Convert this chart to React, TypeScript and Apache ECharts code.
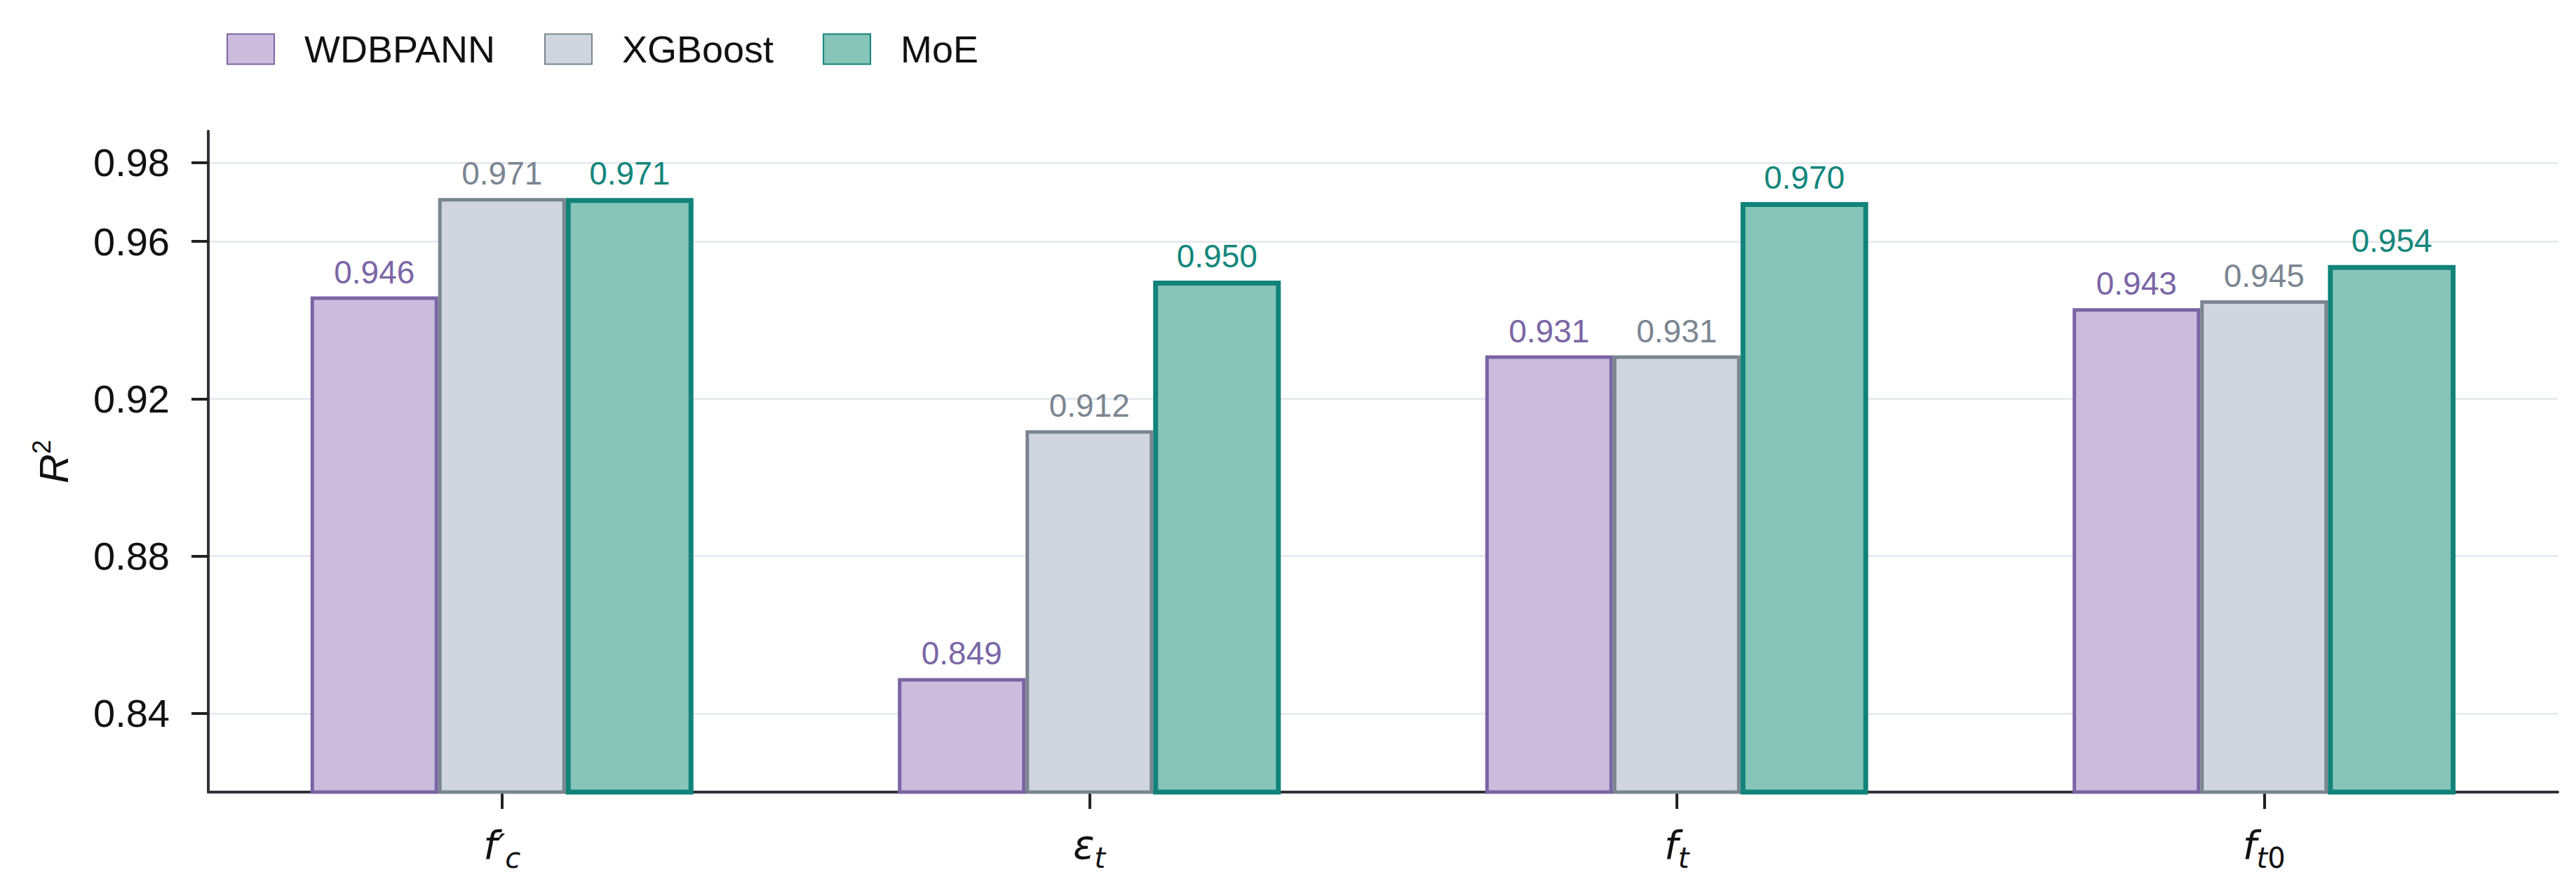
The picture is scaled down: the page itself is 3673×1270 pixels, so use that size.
import React, { useEffect, useRef } from 'react';
import * as echarts from 'echarts';

const categories = ['fc_prime', 'eps_t', 'f_t', 'f_t0'];
const xTickLabels = ['{f|f}{q|′}{s|c}', '{f|ε}{s|t}', '{f|f}{s|t}', '{f|f}{s|t}{n|0}'];
const seriesNames = ['WDBPANN', 'XGBoost', 'MoE'];
const wdbpann = [0.946, 0.849, 0.931, 0.943];
const xgboost = [0.971, 0.912, 0.931, 0.945];
const moe = [0.971, 0.95, 0.97, 0.954];
const yTicks = [0.84, 0.88, 0.92, 0.96, 0.98];

const FONT = 'Liberation Sans, Arial, Helvetica, sans-serif';
const MATH = 'DejaVu Sans, sans-serif';

const styles = [
  { fill: '#CBBCDD', border: '#7A64A4', label: '#7A66A6', bw: 5 },
  { fill: '#CFD6DE', border: '#7B858F', label: '#7B8691', bw: 5 },
  { fill: '#87C5B8', border: '#11837A', label: '#13867B', bw: 7 },
];

export default function App() {
  const ref = useRef<HTMLDivElement>(null);
  useEffect(() => {
    if (!ref.current) return;
    const chart = echarts.init(ref.current, undefined, { renderer: 'svg' });
    const datasets = [wdbpann, xgboost, moe];
    chart.setOption({
      animation: false,
      backgroundColor: '#ffffff',
      legend: {
        left: 318,
        top: 38,
        icon: 'rect',
        itemWidth: 67,
        itemHeight: 43,
        itemGap: 70,
        data: seriesNames,
        textStyle: { fontSize: 54, color: '#111111', fontFamily: FONT, padding: [0, 0, 0, 38] },
      },
      grid: { left: 297, right: 26, top: 187, bottom: 141, containLabel: false },
      xAxis: {
        type: 'category',
        data: categories,
        axisLine: { show: true, lineStyle: { color: '#2E3338', width: 4 } },
        axisTick: { show: true, alignWithLabel: true, length: 24, lineStyle: { color: '#222222', width: 4 } },
        axisLabel: {
          margin: 52,
          formatter: (_v: string, i: number) => xTickLabels[i],
          rich: {
            f: { fontSize: 56, fontStyle: 'italic', fontFamily: MATH, color: '#111', lineHeight: 62, padding: [0, 0, 11, 0], verticalAlign: 'bottom' },
            q: { fontSize: 50, fontStyle: 'italic', fontFamily: MATH, color: '#111', lineHeight: 62, padding: [0, 0, 11, 0], verticalAlign: 'bottom' },
            s: { fontSize: 40, fontStyle: 'italic', fontFamily: MATH, color: '#111', lineHeight: 40, verticalAlign: 'bottom' },
            n: { fontSize: 40, fontFamily: MATH, color: '#111', lineHeight: 40, verticalAlign: 'bottom' },
          },
        },
        splitLine: { show: false },
      },
      yAxis: {
        type: 'value',
        min: 0.82,
        max: 0.988,
        name: '{i|R}{s|2}',
        nameLocation: 'middle',
        nameRotate: 90,
        nameGap: 192,
        nameTextStyle: {
          rich: {
            i: { fontSize: 58, fontStyle: 'italic', fontFamily: FONT, color: '#111', lineHeight: 64, verticalAlign: 'bottom' },
            s: { fontSize: 36, fontFamily: FONT, color: '#111', lineHeight: 40, verticalAlign: 'top' },
          },
        },
        axisLine: { show: true, lineStyle: { color: '#2E3338', width: 4 } },
        axisTick: { show: true, length: 24, customValues: yTicks, lineStyle: { color: '#222222', width: 4 } },
        axisLabel: {
          customValues: yTicks,
          margin: 55,
          fontSize: 56,
          color: '#111111',
          fontFamily: FONT,
          formatter: (v: number) => v.toFixed(2),
        },
        splitLine: { show: true, lineStyle: { color: '#E7EBEF', width: 3 } },
      },
      series: seriesNames.map((name, k) => ({
        name,
        type: 'bar',
        data: datasets[k],
        barWidth: 182,
        barGap: '0%',
        z: 2,
        itemStyle: { color: styles[k].fill, borderColor: styles[k].border, borderWidth: styles[k].bw },
        label: {
          show: true,
          position: 'top',
          distance: 12,
          fontSize: 46,
          fontFamily: FONT,
          color: styles[k].label,
          formatter: (p: any) => Number(p.value).toFixed(3),
        },
      })),
    });
    return () => chart.dispose();
  }, []);
  return (
    <div
      ref={ref}
      style={{ position: 'fixed', left: 0, top: 0, width: 3673, height: 1270, background: '#fff' }}
    />
  );
}
